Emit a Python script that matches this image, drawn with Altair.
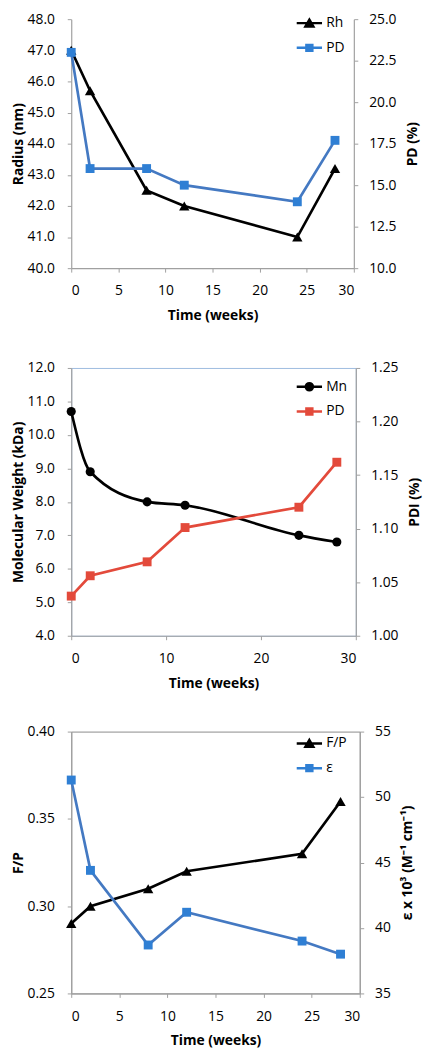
import altair as alt
import pandas as pd

weeks = [0, 2, 8, 12, 24, 28]

# Panel 1
rh = [47.0, 45.7, 42.5, 42.0, 41.0, 43.2]
pd_pct = [23.0, 16.0, 16.0, 15.0, 14.0, 17.7]
# Panel 2
mn = [10.7, 8.9, 8.0, 7.9, 7.0, 6.8]
pdi = [1.037, 1.056, 1.069, 1.101, 1.120, 1.162]
# Panel 3
fp = [0.29, 0.30, 0.31, 0.32, 0.33, 0.36]
eps = [51.3, 44.4, 38.7, 41.2, 39.0, 38.0]

BLACK = "#000000"
BLUE_LINE = "#4479c2"
BLUE_PT = "#2f7fd4"
RED = "#e34a3b"
AXIS_GRAY = "#a0a0a0"

# legend symbols: a line segment with the marker on it
TRI = "M-3.2,0H3.2M0,-0.87L1,0.87H-1Z"
SQR = "M-3.2,0H3.2M-0.75,-0.75H0.75V0.75H-0.75Z"
CIR = "M-3.2,0H3.2M0.9,0A0.9,0.9,0,1,1,-0.9,0A0.9,0.9,0,1,1,0.9,0Z"
PLAIN = {TRI: "triangle-up", SQR: "square", CIR: "circle"}


def series_layer(vals, name, domain, colors, shapes, line_color, pt_color,
                 pt_shape, pt_size, ydomain, yvalues, yfmt, ytitle, orient,
                 legend_xy, interp="linear", xvalues=None):
    df = pd.DataFrame({"week": weeks, "value": vals, "series": name})
    x = alt.X("week:Q", scale=alt.Scale(domain=[0, 30], nice=False),
              axis=alt.Axis(values=xvalues, title="Time (weeks)", format="d",
                            labelPadding=12, titlePadding=11))
    if orient == "left":
        yaxis = alt.Axis(orient="left", values=yvalues, format=yfmt,
                         title=ytitle, titleAngle=270, titleBaseline="bottom",
                         labelPadding=13, titlePadding=2)
    else:
        yaxis = alt.Axis(orient="right", values=yvalues, format=yfmt,
                         title=ytitle, titleAngle=270, titleBaseline="top",
                         labelPadding=11, titlePadding=10)
    y = alt.Y("value:Q",
              scale=alt.Scale(domain=ydomain, nice=False, zero=False),
              axis=yaxis)
    legend = alt.Legend(title=None, orient="none", legendX=legend_xy[0],
                        legendY=legend_xy[1], padding=0,
                        labelFont="Open Sans", labelFontSize=14,
                        labelColor="black", symbolSize=64, labelOffset=10,
                        rowPadding=8, symbolStrokeWidth=2.5)
    line = alt.Chart(df).mark_line(color=line_color, strokeWidth=2.7,
                                   interpolate=interp).encode(x=x, y=y)
    pts = alt.Chart(df).mark_point(filled=True, opacity=1, size=pt_size,
                                   shape=PLAIN[pt_shape], color=pt_color
                                   ).encode(x=x, y=y)
    # empty layer that only carries the legend (line + marker symbols)
    key = alt.Chart(df).transform_filter("false").mark_point(
        filled=False, opacity=1, size=64, strokeWidth=2.5).encode(
        x=x, y=y,
        color=alt.Color("series:N", scale=alt.Scale(domain=domain, range=colors),
                        legend=legend),
        fill=alt.Fill("series:N", scale=alt.Scale(domain=domain, range=colors),
                      legend=legend),
        shape=alt.Shape("series:N", scale=alt.Scale(domain=domain, range=shapes),
                        legend=legend),
    )
    return alt.layer(line, pts, key)


X5 = [0, 5, 10, 15, 20, 25, 30]
X10 = [0, 10, 20, 30]

# Panel 1
d1 = ["Rh", "PD"]
c1 = [BLACK, BLUE_PT]
s1 = [TRI, SQR]
L1 = (234, -3)
p1 = alt.layer(
    series_layer(rh, "Rh", d1, c1, s1, BLACK, BLACK, TRI, 110, [40, 48],
                 [40, 41, 42, 43, 44, 45, 46, 47, 48], ".1f", "Radius (nm)",
                 "left", L1, xvalues=X5),
    series_layer(pd_pct, "PD", d1, c1, s1, BLUE_LINE, BLUE_PT, SQR, 81,
                 [10, 25], [10, 12.5, 15, 17.5, 20, 22.5, 25], ".1f",
                 "PD (%)", "right", L1, xvalues=X5),
).resolve_scale(y="independent").properties(
    width=286, height=252, view=alt.ViewBackground(stroke=None))

# Panel 2
d2 = ["Mn", "PD"]
c2 = [BLACK, RED]
s2 = [CIR, SQR]
L2 = (234, 12)
p2 = alt.layer(
    series_layer(mn, "Mn", d2, c2, s2, BLACK, BLACK, CIR, 85, [4, 12],
                 [4, 5, 6, 7, 8, 9, 10, 11, 12], ".1f",
                 "Molecular Weight (kDa)", "left", L2, interp="monotone",
                 xvalues=X10),
    series_layer(pdi, "PD", d2, c2, s2, RED, RED, SQR, 81, [1.0, 1.25],
                 [1.0, 1.05, 1.1, 1.15, 1.2, 1.25], ".2f", "PDI (%)",
                 "right", L2, xvalues=X10),
).resolve_scale(y="independent").properties(
    width=288, height=271, view=alt.ViewBackground(stroke="#9dbbe0"))

# Panel 3
d3 = ["F/P", "ε"]
c3 = [BLACK, BLUE_PT]
s3 = [TRI, SQR]
L3 = (234, 5)
p3 = alt.layer(
    series_layer(fp, "F/P", d3, c3, s3, BLACK, BLACK, TRI, 110, [0.25, 0.40],
                 [0.25, 0.30, 0.35, 0.40], ".2f", "F/P", "left", L3,
                 xvalues=X5),
    series_layer(eps, "ε", d3, c3, s3, BLUE_LINE, BLUE_PT, SQR, 81, [35, 55],
                 [35, 40, 45, 50, 55], "d", "ε x 10³ (M⁻¹ cm⁻¹)", "right", L3,
                 xvalues=X5),
).resolve_scale(y="independent").properties(
    width=292, height=265, view=alt.ViewBackground(stroke="#8a8a8a"))

ind = dict(color="independent", shape="independent", fill="independent")
top_pair = alt.vconcat(p1, p2, spacing=38).resolve_scale(**ind).resolve_legend(**ind)

chart = alt.vconcat(top_pair, p3, spacing=33).resolve_scale(**ind).resolve_legend(
    **ind
).properties(
    padding={"top": -2, "left": 2, "right": 0, "bottom": 0}
).configure_axis(
    labelFont="Open Sans", labelFontSize=14, labelColor="black",
    titleFont="Open Sans", titleFontSize=14, titleFontWeight="bold",
    titleColor="black", domainColor=AXIS_GRAY, tickColor=AXIS_GRAY,
    tickSize=4, grid=False, domainWidth=1.2,
).configure_view(stroke=None).configure_legend(
    labelFont="Open Sans", labelFontSize=14)

chart.save("out.html", embed_options={"renderer": "svg", "actions": False})
